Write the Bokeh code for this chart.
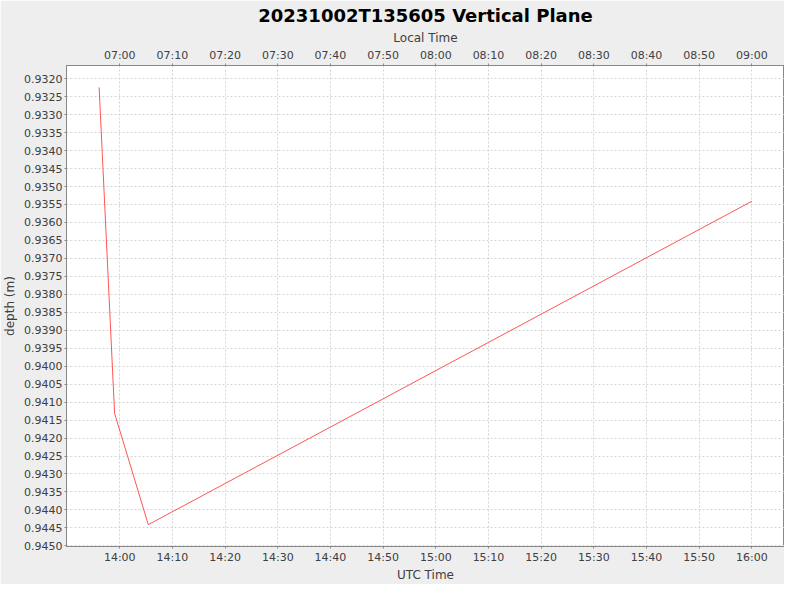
import numpy as np
import pandas as pd
from bokeh.plotting import figure
from bokeh.models import (Range1d, DatetimeAxis, FixedTicker, DatetimeTickFormatter,
                          SingleIntervalTicker, PrintfTickFormatter)
from bokeh.embed import file_html
from bokeh.resources import INLINE

# ---- data ----
title_text = "20231002T135605 Vertical Plane"
times_utc = ["2023-10-02 13:56:05", "2023-10-02 13:59:01", "2023-10-02 14:05:25", "2023-10-02 16:00:00"]
depths = [0.93224, 0.94131, 0.94441, 0.93541]
local_offset_hours = -7
x_label_bottom = "UTC Time"
x_label_top = "Local Time"
y_label = "depth (m)"

t = pd.to_datetime(times_utc)
t_ms = (t.astype("int64") // 10**6).to_numpy().astype(float)

# auto-range with 5% margins
xspan = t_ms.max() - t_ms.min()
x0, x1 = t_ms.min() - 0.05 * xspan, t_ms.max() + 0.05 * xspan
yspan = max(depths) - min(depths)
y_lo, y_hi = min(depths) - 0.05 * yspan, max(depths) + 0.05 * yspan
off = local_offset_hours * 3600 * 1000

step = 10 * 60 * 1000
edge = 60 * 1000
utc_ticks = [v for v in np.arange(np.ceil(x0 / step) * step, x1, step) if x0 + edge < v < x1 - edge]
loc_ticks = [v for v in np.arange(np.ceil((x0 + off) / step) * step, x1 + off, step)
             if x0 + off + edge < v < x1 + off - edge]

FONT = "DejaVu Sans"
GRAY = "#888888"
TXT = "#404040"

p = figure(width=784, height=584, output_backend="svg", toolbar_location=None,
           x_axis_type="datetime", x_range=Range1d(x0, x1), y_range=Range1d(y_hi, y_lo),
           min_border_left=66, min_border_right=0, min_border_top=52, min_border_bottom=0)
p.extra_x_ranges = {"local": Range1d(x0 + off, x1 + off)}

p.background_fill_color = "white"
p.border_fill_color = "#EEEEEE"
p.outline_line_color = GRAY
p.outline_line_width = 1

p.title.text = title_text
p.title.align = "center"
p.title.text_font = FONT
p.title.text_font_size = "18px"
p.title.text_font_style = "bold"
p.title.text_color = "black"
p.title.offset = 0
p.title.standoff = 4

fmt = DatetimeTickFormatter(seconds="%H:%M", minsec="%H:%M", minutes="%H:%M",
                            hourmin="%H:%M", hours="%H:%M", days="%H:%M")

xa = p.xaxis[0]
xa.ticker = FixedTicker(ticks=utc_ticks)
xa.formatter = fmt

top = DatetimeAxis(x_range_name="local", ticker=FixedTicker(ticks=loc_ticks), formatter=fmt)
p.add_layout(top, "above")

ya = p.yaxis[0]
ya.ticker = SingleIntervalTicker(interval=0.0005, num_minor_ticks=0)
ya.formatter = PrintfTickFormatter(format="%.4f")

xa.axis_label = x_label_bottom
top.axis_label = x_label_top
ya.axis_label = y_label

for ax in [xa, top, ya]:
    ax.axis_line_color = GRAY
    ax.major_tick_line_color = GRAY
    ax.major_tick_out = 2
    ax.major_tick_in = 0
    ax.minor_tick_line_color = None
    ax.major_label_text_font = FONT
    ax.major_label_text_font_size = "11px"
    ax.major_label_text_color = TXT
    ax.major_label_standoff = 2
    ax.axis_label_text_font = FONT
    ax.axis_label_text_font_size = "12px"
    ax.axis_label_text_font_style = "normal"
    ax.axis_label_text_color = TXT
    ax.axis_label_standoff = 1
ya.axis_label_standoff = 4

p.xgrid.ticker = FixedTicker(ticks=utc_ticks)
for g in [p.xgrid[0], p.ygrid[0]]:
    g.grid_line_color = "#D4D4D4"
    g.grid_line_dash = "2 2"
    g.grid_line_width = 1

p.line(x=t_ms, y=depths, line_color="#FF5555", line_width=1)

open("out.html", "w").write(file_html(p, INLINE))
